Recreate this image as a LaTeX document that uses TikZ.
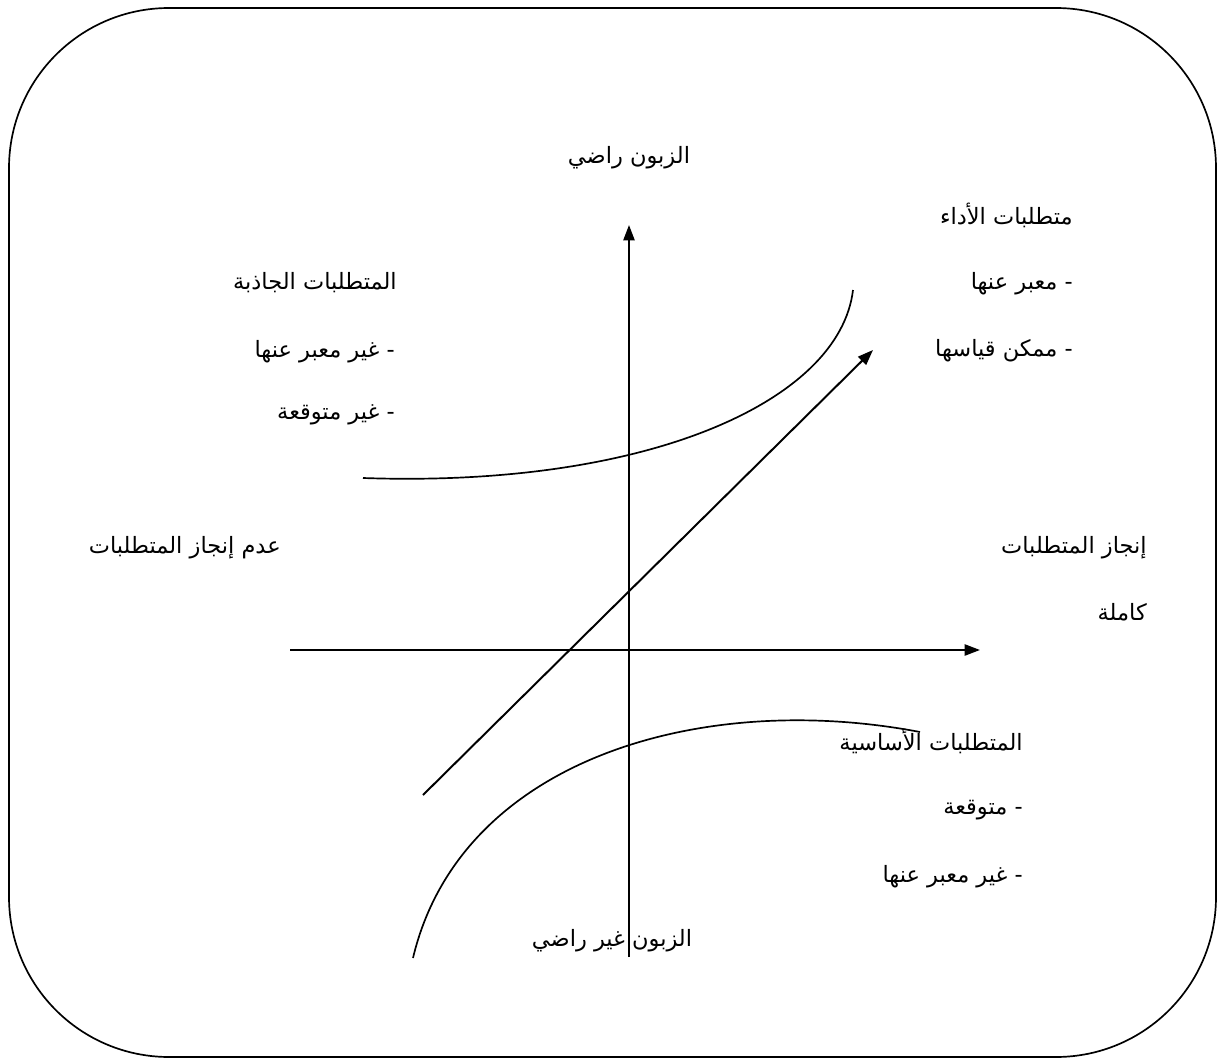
\documentclass[tikz,border=0pt]{standalone}
\usepackage{fontspec}
\newfontfamily\arabicfont[Script=Arabic]{DejaVu Sans}
\TeXXeTstate=1
\usetikzlibrary{arrows.meta}

\tikzset{
  lbl/.style={font=\arabicfont\fontsize{16}{19}\selectfont, inner sep=0pt},
  axis/.style={line width=1.4pt, -{Triangle[length=11pt,width=8pt]}},
  curve/.style={line width=1.2pt}
}

\begin{document}
\begin{tikzpicture}[x=0.025cm,y=-0.025cm]
\useasboundingbox (0,0) rectangle (1219,1059);
\draw[line width=1.2pt, rounded corners=4cm] (9,8) rectangle (1216,1057);

\coordinate (vlo) at (629,957);
\coordinate (vhi) at (629,225);
\coordinate (hlo) at (290,650);
\coordinate (hhi) at (980,650);
\coordinate (dlo) at (423,795);
\coordinate (dhi) at (873,350);
\coordinate (ua) at (363,478);
\coordinate (ub) at (853,290);
\coordinate (la) at (413,958);
\coordinate (lb) at (920,732);

\draw[axis] (vlo) -- (vhi);
\draw[axis] (hlo) -- (hhi);
\draw[axis] (dlo) -- (dhi);
\draw[curve] (ua) .. controls (650,488) and (840,400) .. (ub);
\draw[curve] (la) .. controls (460,760) and (700,690) .. (lb);

\node[lbl] (sat) at (629,158) {\beginR الزبون راضي\endR};
\node[lbl] (unsat) at (612,941) {\beginR الزبون غير راضي\endR};

\node[lbl, anchor=east] (perf) at (1073,215) {\beginR متطلبات الأداء\endR};
\node[lbl, anchor=east] (perf1) at (1073,284) {\beginR - معبر عنها\endR};
\node[lbl, anchor=east] (perf2) at (1073,351) {\beginR - ممكن قياسها\endR};

\node[lbl, anchor=east] (attr) at (397,283) {\beginR المتطلبات الجاذبة\endR};
\node[lbl, anchor=east] (attr1) at (395,352) {\beginR - غير معبر عنها\endR};
\node[lbl, anchor=east] (attr2) at (395,415) {\beginR - غير متوقعة\endR};

\node[lbl, anchor=east] (none) at (281,548) {\beginR عدم إنجاز المتطلبات\endR};
\node[lbl, anchor=east] (full) at (1147,548) {\beginR إنجاز المتطلبات\endR};
\node[lbl, anchor=east] (full1) at (1147,612) {\beginR كاملة\endR};

\node[lbl, anchor=east] (base) at (1023,741) {\beginR المتطلبات الأساسية\endR};
\node[lbl, anchor=east] (base1) at (1023,810) {\beginR - متوقعة\endR};
\node[lbl, anchor=east] (base2) at (1023,877) {\beginR - غير معبر عنها\endR};
\end{tikzpicture}
\end{document}
